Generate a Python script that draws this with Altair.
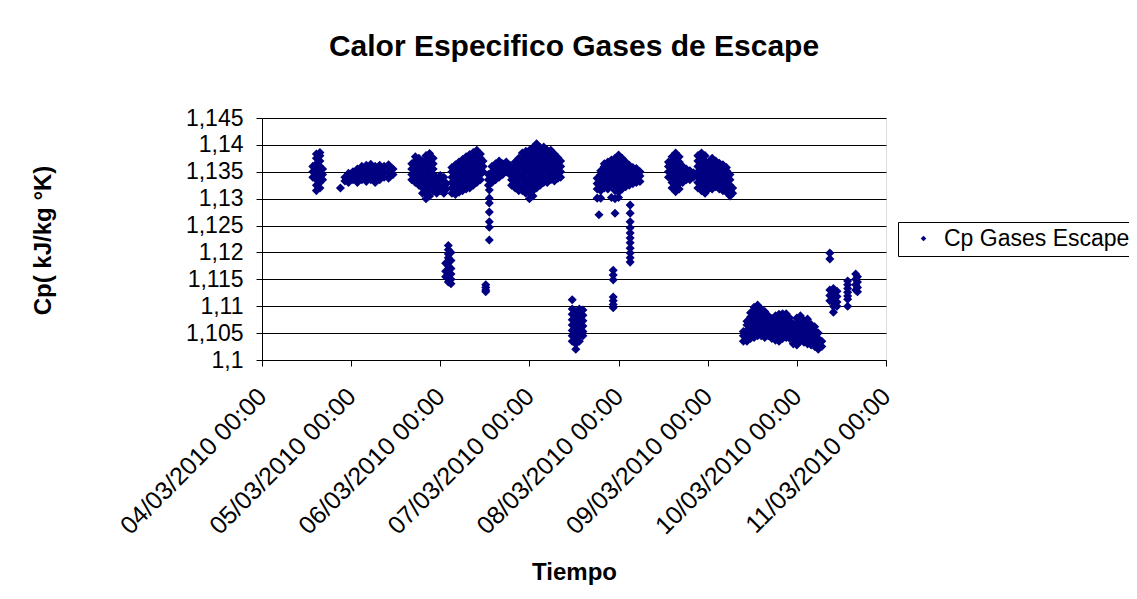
import altair as alt
import pandas as pd

# Each entry: (days after 04/03/2010 00:00, [Cp values at that time])
grupo_1 = [
    (0.57, [1.1340, 1.1350, 1.1360]),
    (0.61, [1.1315, 1.1325, 1.1335, 1.1345, 1.1355, 1.1365, 1.1375, 1.1383]),
    (0.65, [1.1320, 1.1330, 1.1340, 1.1350, 1.1360, 1.1370, 1.1380, 1.1386]),
    (0.68, [1.1335, 1.1345, 1.1355]),
]
grupo_2 = [
    (0.88, [1.1320]),
    (0.93, [1.1333, 1.1340]),
    (0.97, [1.1330, 1.1340, 1.1347]),
    (1.02, [1.1335, 1.1345, 1.1350]),
    (1.07, [1.1330, 1.1340, 1.1350, 1.1355]),
    (1.12, [1.1335, 1.1345, 1.1355, 1.1360]),
    (1.17, [1.1332, 1.1342, 1.1352, 1.1362]),
    (1.22, [1.1335, 1.1345, 1.1355, 1.1364]),
    (1.27, [1.1330, 1.1340, 1.1350, 1.1360]),
    (1.32, [1.1335, 1.1345, 1.1355, 1.1362]),
    (1.37, [1.1340, 1.1350, 1.1360]),
    (1.42, [1.1338, 1.1348, 1.1358, 1.1363]),
    (1.47, [1.1345, 1.1355]),
]
grupo_3 = [
    (1.68, [1.1335, 1.1345, 1.1355, 1.1365]),
    (1.72, [1.1330, 1.1340, 1.1350, 1.1360, 1.1370, 1.1378]),
    (1.76, [1.1325, 1.1335, 1.1345, 1.1355, 1.1365, 1.1375]),
    (1.80, [1.1310, 1.1320, 1.1330, 1.1340, 1.1350, 1.1360, 1.1370]),
    (1.84, [1.1300, 1.1310, 1.1320, 1.1330, 1.1340, 1.1350, 1.1360, 1.1370, 1.1380]),
    (1.88, [1.1305, 1.1315, 1.1325, 1.1335, 1.1345, 1.1355, 1.1365, 1.1375, 1.1384]),
    (1.92, [1.1315, 1.1325, 1.1335, 1.1345, 1.1355, 1.1365, 1.1375]),
    (1.96, [1.1310, 1.1320, 1.1330, 1.1340]),
    (2.00, [1.1315, 1.1325, 1.1335, 1.1343]),
    (2.04, [1.1310, 1.1320, 1.1330, 1.1340]),
    (2.07, [1.1318, 1.1328]),
]
grupo_4 = [
    (2.06, [1.1180, 1.1165, 1.1155]),
    (2.09, [1.1213, 1.1205, 1.1197, 1.1190, 1.1182, 1.1175, 1.1167, 1.1160, 1.1152, 1.1145]),
    (2.12, [1.1200, 1.1185, 1.1170, 1.1160, 1.1150, 1.1142]),
]
grupo_5 = [
    (2.13, [1.1310, 1.1320, 1.1330, 1.1340, 1.1350, 1.1358]),
    (2.17, [1.1308, 1.1318, 1.1328, 1.1338, 1.1348, 1.1358, 1.1363]),
    (2.21, [1.1312, 1.1322, 1.1332, 1.1342, 1.1352, 1.1362, 1.1368]),
    (2.25, [1.1315, 1.1325, 1.1335, 1.1345, 1.1355, 1.1365, 1.1373]),
    (2.29, [1.1318, 1.1328, 1.1338, 1.1348, 1.1358, 1.1368, 1.1378]),
    (2.33, [1.1320, 1.1330, 1.1340, 1.1350, 1.1360, 1.1370, 1.1382]),
    (2.37, [1.1325, 1.1335, 1.1345, 1.1355, 1.1365, 1.1375, 1.1386]),
    (2.41, [1.1330, 1.1340, 1.1350, 1.1360, 1.1370, 1.1380, 1.1390]),
    (2.45, [1.1335, 1.1345, 1.1355, 1.1365, 1.1375, 1.1383]),
    (2.48, [1.1350, 1.1360, 1.1370]),
]
grupo_6 = [
    (2.51, [1.1140, 1.1135, 1.1130, 1.1127]),
    (2.55, [1.1316, 1.1301, 1.1292, 1.1275, 1.1257, 1.1247, 1.1223]),
    (2.54, [1.1325, 1.1335, 1.1345]),
    (2.58, [1.1330, 1.1340, 1.1350, 1.1360]),
    (2.62, [1.1335, 1.1345, 1.1355, 1.1365]),
    (2.66, [1.1340, 1.1350, 1.1360, 1.1370]),
    (2.70, [1.1345, 1.1355, 1.1365]),
    (2.74, [1.1350, 1.1360, 1.1368]),
    (2.78, [1.1345, 1.1355, 1.1362]),
]
grupo_7 = [
    (2.80, [1.1325, 1.1335, 1.1345, 1.1355]),
    (2.84, [1.1320, 1.1330, 1.1340, 1.1350, 1.1360, 1.1368]),
    (2.88, [1.1315, 1.1325, 1.1335, 1.1345, 1.1355, 1.1365, 1.1375]),
    (2.92, [1.1315, 1.1325, 1.1335, 1.1345, 1.1355, 1.1365, 1.1375, 1.1385]),
    (2.96, [1.1310, 1.1320, 1.1330, 1.1340, 1.1350, 1.1360, 1.1370, 1.1380, 1.1388]),
    (3.00, [1.1300, 1.1310, 1.1320, 1.1330, 1.1340, 1.1350, 1.1360, 1.1370, 1.1380, 1.1390]),
    (3.04, [1.1305, 1.1315, 1.1325, 1.1335, 1.1345, 1.1355, 1.1365, 1.1375, 1.1385, 1.1395]),
    (3.08, [1.1320, 1.1330, 1.1340, 1.1350, 1.1360, 1.1370, 1.1380, 1.1390, 1.1402]),
    (3.12, [1.1325, 1.1335, 1.1345, 1.1355, 1.1365, 1.1375, 1.1385, 1.1395]),
    (3.16, [1.1330, 1.1340, 1.1350, 1.1360, 1.1370, 1.1380, 1.1390, 1.1396]),
    (3.20, [1.1330, 1.1340, 1.1350, 1.1360, 1.1370, 1.1380, 1.1390]),
    (3.24, [1.1335, 1.1345, 1.1355, 1.1365, 1.1375, 1.1385, 1.1390]),
    (3.28, [1.1333, 1.1343, 1.1353, 1.1363, 1.1373, 1.1383]),
    (3.32, [1.1338, 1.1348, 1.1358, 1.1368, 1.1376]),
    (3.35, [1.1340, 1.1350, 1.1360, 1.1370]),
]
grupo_8 = [
    (3.48, [1.1112, 1.1095, 1.1085, 1.1075, 1.1065, 1.1055, 1.1045, 1.1035]),
    (3.52, [1.1090, 1.1080, 1.1070, 1.1060, 1.1050, 1.1040, 1.1030, 1.1020]),
    (3.56, [1.1095, 1.1085, 1.1075, 1.1065, 1.1055, 1.1045, 1.1035]),
    (3.60, [1.1093, 1.1083, 1.1073, 1.1063, 1.1053, 1.1045]),
]
grupo_9 = [
    (3.76, [1.1318, 1.1328, 1.1338, 1.1301]),
    (3.78, [1.1270]),
    (3.80, [1.1315, 1.1325, 1.1335, 1.1345, 1.1352, 1.1301]),
    (3.84, [1.1320, 1.1330, 1.1340, 1.1350, 1.1360, 1.1365]),
    (3.88, [1.1318, 1.1328, 1.1338, 1.1348, 1.1358, 1.1368]),
    (3.92, [1.1325, 1.1335, 1.1345, 1.1355, 1.1365, 1.1372, 1.1302]),
    (3.96, [1.1315, 1.1325, 1.1335, 1.1345, 1.1355, 1.1365, 1.1375, 1.1300, 1.1273]),
    (4.00, [1.1312, 1.1322, 1.1332, 1.1342, 1.1352, 1.1362, 1.1372, 1.1381, 1.1302]),
    (4.04, [1.1318, 1.1328, 1.1338, 1.1348, 1.1358, 1.1368, 1.1375]),
    (4.08, [1.1322, 1.1332, 1.1342, 1.1352, 1.1362, 1.1368]),
    (4.12, [1.1325, 1.1335, 1.1345, 1.1355, 1.1362]),
    (4.16, [1.1328, 1.1338, 1.1348, 1.1358]),
    (4.20, [1.1330, 1.1340, 1.1350, 1.1356]),
    (4.24, [1.1332, 1.1342, 1.1350]),
    (4.13, [1.1288, 1.1273, 1.1257, 1.1246, 1.1236, 1.1227, 1.1218, 1.1208, 1.1199, 1.1190, 1.1182]),
    (3.94, [1.1167, 1.1158, 1.1149, 1.1117, 1.1110, 1.1103, 1.1097]),
]
grupo_10 = [
    (4.56, [1.1340, 1.1350, 1.1360, 1.1368]),
    (4.60, [1.1320, 1.1330, 1.1340, 1.1350, 1.1360, 1.1370, 1.1378]),
    (4.64, [1.1313, 1.1323, 1.1333, 1.1343, 1.1353, 1.1363, 1.1373, 1.1385]),
    (4.68, [1.1318, 1.1328, 1.1338, 1.1348, 1.1358, 1.1368, 1.1378]),
    (4.72, [1.1330, 1.1340, 1.1350, 1.1360]),
    (4.76, [1.1335, 1.1345, 1.1355]),
    (4.80, [1.1335, 1.1345, 1.1352]),
    (4.84, [1.1340, 1.1348]),
    (4.89, [1.1320, 1.1330, 1.1340, 1.1350, 1.1360, 1.1370, 1.1380]),
    (4.93, [1.1315, 1.1325, 1.1335, 1.1345, 1.1355, 1.1365, 1.1375, 1.1385]),
    (4.97, [1.1310, 1.1320, 1.1330, 1.1340, 1.1350, 1.1360, 1.1370, 1.1380]),
    (5.01, [1.1318, 1.1328, 1.1338, 1.1348, 1.1358, 1.1368]),
    (5.05, [1.1318, 1.1328, 1.1338, 1.1348, 1.1358, 1.1368, 1.1375]),
    (5.09, [1.1322, 1.1332, 1.1342, 1.1352, 1.1362, 1.1370]),
    (5.13, [1.1318, 1.1328, 1.1338, 1.1348, 1.1358, 1.1366]),
    (5.17, [1.1315, 1.1325, 1.1335, 1.1345, 1.1355, 1.1363]),
    (5.21, [1.1312, 1.1322, 1.1332, 1.1342, 1.1352, 1.1358]),
    (5.25, [1.1305, 1.1315, 1.1325, 1.1335, 1.1345]),
    (5.28, [1.1310, 1.1320]),
]
grupo_11 = [
    (5.40, [1.1035, 1.1045, 1.1053]),
    (5.44, [1.1035, 1.1045, 1.1055, 1.1065, 1.1072]),
    (5.48, [1.1040, 1.1050, 1.1060, 1.1070, 1.1080, 1.1088]),
    (5.52, [1.1042, 1.1052, 1.1062, 1.1072, 1.1082, 1.1092, 1.1098]),
    (5.56, [1.1045, 1.1055, 1.1065, 1.1075, 1.1085, 1.1095, 1.1102]),
    (5.60, [1.1045, 1.1055, 1.1065, 1.1075, 1.1085, 1.1095]),
    (5.64, [1.1042, 1.1052, 1.1062, 1.1072, 1.1082, 1.1090]),
    (5.68, [1.1045, 1.1055, 1.1065, 1.1075, 1.1082]),
    (5.72, [1.1040, 1.1050, 1.1060, 1.1070, 1.1077]),
    (5.76, [1.1037, 1.1047, 1.1057, 1.1067, 1.1075, 1.1082]),
    (5.80, [1.1035, 1.1045, 1.1055, 1.1065, 1.1075, 1.1085]),
    (5.84, [1.1040, 1.1050, 1.1060, 1.1070, 1.1080, 1.1086]),
    (5.88, [1.1042, 1.1052, 1.1062, 1.1072, 1.1082, 1.1086]),
    (5.92, [1.1040, 1.1050, 1.1060, 1.1070, 1.1078]),
    (5.96, [1.1030, 1.1040, 1.1050, 1.1060, 1.1068]),
    (6.00, [1.1028, 1.1038, 1.1048, 1.1058, 1.1068, 1.1078]),
    (6.04, [1.1035, 1.1045, 1.1055, 1.1065, 1.1075, 1.1082]),
    (6.08, [1.1033, 1.1043, 1.1053, 1.1063, 1.1073]),
    (6.12, [1.1030, 1.1040, 1.1050, 1.1060, 1.1070, 1.1076]),
    (6.16, [1.1028, 1.1038, 1.1048, 1.1058, 1.1066]),
    (6.20, [1.1025, 1.1035, 1.1045, 1.1055, 1.1062]),
    (6.24, [1.1020, 1.1030, 1.1040, 1.1050]),
    (6.28, [1.1025, 1.1035]),
]
grupo_12 = [
    (6.37, [1.1199, 1.1188, 1.1130, 1.1120, 1.1110]),
    (6.41, [1.1133, 1.1125, 1.1117, 1.1108, 1.1100, 1.1089]),
    (6.45, [1.1128, 1.1118, 1.1108, 1.1100]),
    (6.57, [1.1147, 1.1140, 1.1133, 1.1126, 1.1119, 1.1113, 1.1100]),
    (6.66, [1.1160, 1.1150, 1.1140, 1.1130]),
    (6.68, [1.1155, 1.1145, 1.1135, 1.1127]),
]

grupos = [grupo_1, grupo_2, grupo_3, grupo_4, grupo_5, grupo_6, grupo_7,
          grupo_8, grupo_9, grupo_10, grupo_11, grupo_12]

y_ticks = [1.1, 1.105, 1.11, 1.115, 1.12, 1.125, 1.13, 1.135, 1.14, 1.145]
dias = [4, 5, 6, 7, 8, 9, 10, 11]
serie = "Cp Gases Escape"

inicio = pd.Timestamp("2010-03-04 00:00:00")
rows = []
for g in grupos:
    for d, vals in g:
        t = (inicio + pd.to_timedelta(d, unit="D")).strftime("%Y-%m-%dT%H:%M:%S")
        for v in vals:
            rows.append({"t": t, "cp": v, "serie": serie})
df = pd.DataFrame(rows)

FONT = "Liberation Sans"

x_values = [alt.DateTime(year=2010, month=3, date=d) for d in dias]

chart = alt.Chart(df).mark_point(
    shape="diamond", filled=True, size=82, opacity=1
).encode(
    x=alt.X("t:T",
            scale=alt.Scale(domain=[alt.DateTime(year=2010, month=3, date=4),
                                    alt.DateTime(year=2010, month=3, date=11)]),
            axis=alt.Axis(values=x_values, format="%d/%m/%Y %H:%M",
                          labelAngle=-45, labelAlign="right", labelBaseline="middle",
                          labelFontSize=25, labelFont=FONT, labelColor="#000000",
                          labelPadding=26, labelOverlap=False, labelLimit=400,
                          grid=False, domainColor="#000000", tickColor="#000000",
                          tickSize=6, title="Tiempo", titleFont=FONT, titleFontSize=24,
                          titleFontWeight="bold", titleColor="#000000",
                          titleX=312, titleY=212, titleAlign="center",
                          titleBaseline="middle")),
    y=alt.Y("cp:Q",
            scale=alt.Scale(domain=[1.1, 1.145], nice=False, zero=False),
            axis=alt.Axis(values=y_ticks,
                          labelExpr="replace(format(datum.value, '.3~f'), '.', ',')",
                          labelFontSize=23, labelFont=FONT, labelColor="#000000",
                          labelPadding=13,
                          grid=True, gridColor="#000000", gridWidth=1, gridOpacity=1,
                          domainColor="#000000", tickColor="#000000", tickSize=6,
                          title="Cp( kJ/kg °K)", titleFont=FONT, titleFontSize=24,
                          titleFontWeight="bold", titleColor="#000000",
                          titleAngle=-90, titleX=-219, titleY=122,
                          titleAlign="center", titleBaseline="middle")),
    color=alt.Color("serie:N",
                    scale=alt.Scale(domain=[serie], range=["#000080"]),
                    legend=alt.Legend(title=None, orient="none", legendX=636, legendY=104,
                                      padding=5, strokeColor="#000000", fillColor="#FFFFFF",
                                      labelFont=FONT, labelFontSize=23, labelColor="#000000",
                                      labelLimit=400,
                                      symbolType="diamond", symbolSize=30,
                                      symbolOffset=9, labelOffset=9)),
).properties(
    width=624, height=242,
    title=alt.TitleParams("Calor Especifico Gases de Escape", font=FONT, fontSize=30,
                          fontWeight="bold", color="#000000", anchor="middle", offset=45),
    padding={"left": 254, "top": 110, "right": 243, "bottom": 231},
    autosize=alt.AutoSizeParams(type="none"),
).configure_view(
    fill="#C0C0C0", stroke="#808080", strokeWidth=1
).configure(background="#FFFFFF")

chart.save("out.html", embed_options={"renderer": "svg", "actions": False})
